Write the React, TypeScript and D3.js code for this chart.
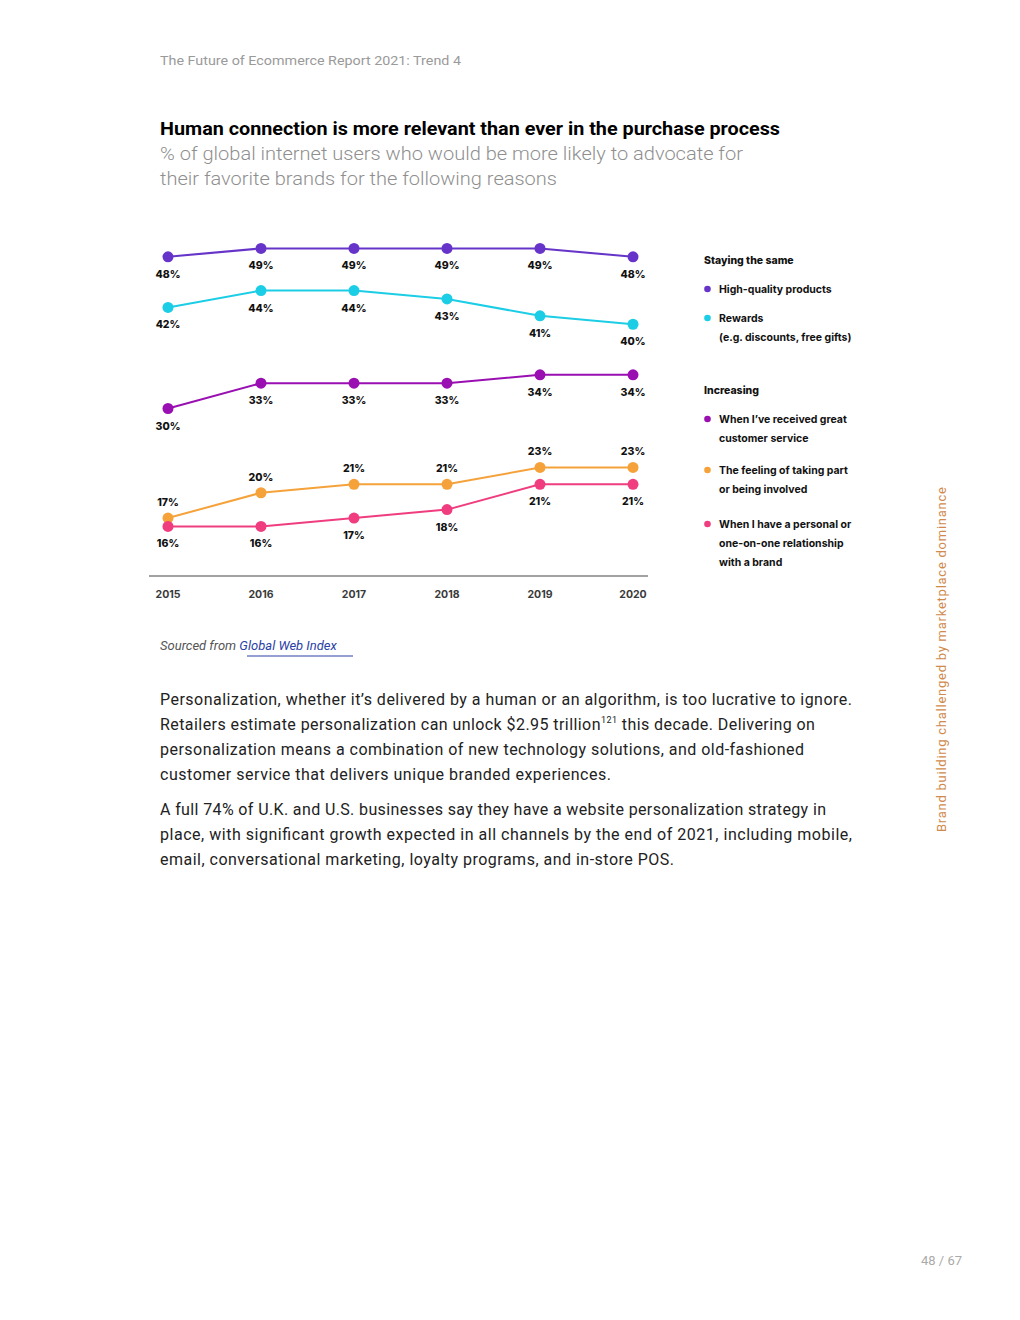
import React from 'react';
import * as d3 from 'd3';

// chart data
const years = ['2015', '2016', '2017', '2018', '2019', '2020'];
const highQuality = [48, 49, 49, 49, 49, 48];
const rewards = [42, 44, 44, 43, 41, 40];
const customerService = [30, 33, 33, 33, 34, 34];
const involved = [17, 20, 21, 21, 23, 23];
const personal = [16, 16, 17, 18, 21, 21];

const seriesColors = ['#6634c9', '#1ccde6', '#990fb1', '#f5a23a', '#ef3d7f'];
const labelAbove = [false, false, false, true, false];

const bodyLines = [
  'Personalization, whether it\u2019s delivered by a human or an algorithm, is too lucrative to ignore.',
  'Retailers estimate personalization can unlock $2.95 trillion',
  'personalization means a combination of new technology solutions, and old-fashioned',
  'customer service that delivers unique branded experiences.',
];
const bodyLines2 = [
  'A full 74% of U.K. and U.S. businesses say they have a website personalization strategy in',
  'place, with significant growth expected in all channels by the end of 2021, including mobile,',
  'email, conversational marketing, loyalty programs, and in-store POS.',
];

const font = 'Roboto, "Noto Sans", sans-serif';
const legendFont = 'Inter, Roboto, sans-serif';

const App = () => {
  const allSeries = [highQuality, rewards, customerService, involved, personal];

  const x = d3.scalePoint<string>().domain(years).range([168, 633]);
  const y = d3.scaleLinear().domain([10, 50]).range([577, 240]);
  const line = d3.line<number>()
    .x((_, i) => x(years[i]) as number)
    .y(d => y(d));

  const legend = [
    { head: 'Staying the same', y: 260 },
    { idx: 0, lines: ['High-quality products'], y: 289 },
    { idx: 1, lines: ['Rewards', '(e.g. discounts, free gifts)'], y: 318 },
    { head: 'Increasing', y: 390 },
    { idx: 2, lines: ['When I\u2019ve received great', 'customer service'], y: 419 },
    { idx: 3, lines: ['The feeling of taking part', 'or being involved'], y: 470 },
    { idx: 4, lines: ['When I have a personal or', 'one-on-one relationship', 'with a brand'], y: 524 },
  ];

  return (
    <svg width={1020} height={1320} style={{ position: 'absolute', left: 0, top: 0, background: '#fff' }}>
      {/* page header */}
      <text x={160} y={65} fontFamily={font} fontSize={13} fill="#9a9a9a" textLength={301} lengthAdjust="spacingAndGlyphs">
        The Future of Ecommerce Report 2021: Trend 4
      </text>

      {/* title */}
      <text x={160} y={135} fontFamily={font} fontSize={18.5} fontWeight={700} fill="#000" textLength={620} lengthAdjust="spacingAndGlyphs">
        Human connection is more relevant than ever in the purchase process
      </text>
      <text x={160} y={160} fontFamily={font} fontSize={19} fontWeight={300} fill="#8f8f8f" textLength={583} lengthAdjust="spacingAndGlyphs">
        % of global internet users who would be more likely to advocate for
      </text>
      <text x={160} y={185} fontFamily={font} fontSize={19} fontWeight={300} fill="#8f8f8f" textLength={397} lengthAdjust="spacingAndGlyphs">
        their favorite brands for the following reasons
      </text>

      {/* chart */}
      <line x1={149} x2={648} y1={576} y2={576} stroke="#444" strokeWidth={1} />
      {years.map(yr => (
        <text key={yr} x={x(yr)} y={598} textAnchor="middle" fontFamily={legendFont} fontSize={10.5} fontWeight={700} fill="#3a3a3a">
          {yr}
        </text>
      ))}
      {allSeries.map((s, si) => (
        <g key={si}>
          <path d={line(s) || ''} fill="none" stroke={seriesColors[si]} strokeWidth={2} />
          {s.map((v, i) => (
            <circle key={i} cx={x(years[i])} cy={y(v)} r={5.5} fill={seriesColors[si]} />
          ))}
          {s.map((v, i) => (
            <text key={'l' + i} x={x(years[i])} y={y(v) + (labelAbove[si] ? -12 : 21)} textAnchor="middle"
              fontFamily={legendFont} fontSize={10.5} fontWeight={800} fill="#111">
              {v}%
            </text>
          ))}
        </g>
      ))}

      {/* legend */}
      {legend.map((item, k) => item.head ? (
        <text key={k} x={704} y={item.y + 4} fontFamily={legendFont} fontSize={10.5} fontWeight={800} fill="#111">
          {item.head}
        </text>
      ) : (
        <g key={k}>
          <circle cx={707.5} cy={item.y} r={3.3} fill={seriesColors[item.idx as number]} />
          {item.lines!.map((t, j) => (
            <text key={j} x={719} y={item.y + 4 + j * 19} fontFamily={legendFont} fontSize={10.5} fontWeight={700} fill="#111">
              {t}
            </text>
          ))}
        </g>
      ))}

      {/* source */}
      <text x={160} y={650} fontFamily={font} fontSize={13} fontStyle="italic" fill="#555">
        Sourced from <tspan fill="#2b3fa6">Global Web Index</tspan>
      </text>
      <line x1={247} x2={353} y1={656} y2={656} stroke="#2b3fa6" strokeWidth={1} />

      {/* body text */}
      {bodyLines.map((t, i) => {
        const widths = [692, 654, 644, 451];
        if (i === 1) {
          return (
            <text key={i} x={160} y={705 + i * 25} fontFamily={font} fontSize={16} fill="#222" letterSpacing={0.43}>
              {t}
              <tspan fontSize={9} dy={-7}>121</tspan>
              <tspan dy={7}> this decade. Delivering on</tspan>
            </text>
          );
        }
        return (
          <text key={i} x={160} y={705 + i * 25} fontFamily={font} fontSize={16} fill="#222" textLength={widths[i]} lengthAdjust="spacing">
            {t}
          </text>
        );
      })}
      {bodyLines2.map((t, i) => {
        const widths = [666, 692, 514];
        return (
          <text key={i} x={160} y={815 + i * 25} fontFamily={font} fontSize={16} fill="#222" textLength={widths[i]} lengthAdjust="spacing">
            {t}
          </text>
        );
      })}

      {/* side label */}
      <text transform="translate(946,832) rotate(-90)" fontFamily={font} fontSize={13} fill="#d08a4c" textLength={345} lengthAdjust="spacing">
        Brand building challenged by marketplace dominance
      </text>

      {/* page number */}
      <text x={962} y={1265} textAnchor="end" fontFamily={font} fontSize={13} fill="#aaa">
        48 / 67
      </text>
    </svg>
  );
};

export default App;
